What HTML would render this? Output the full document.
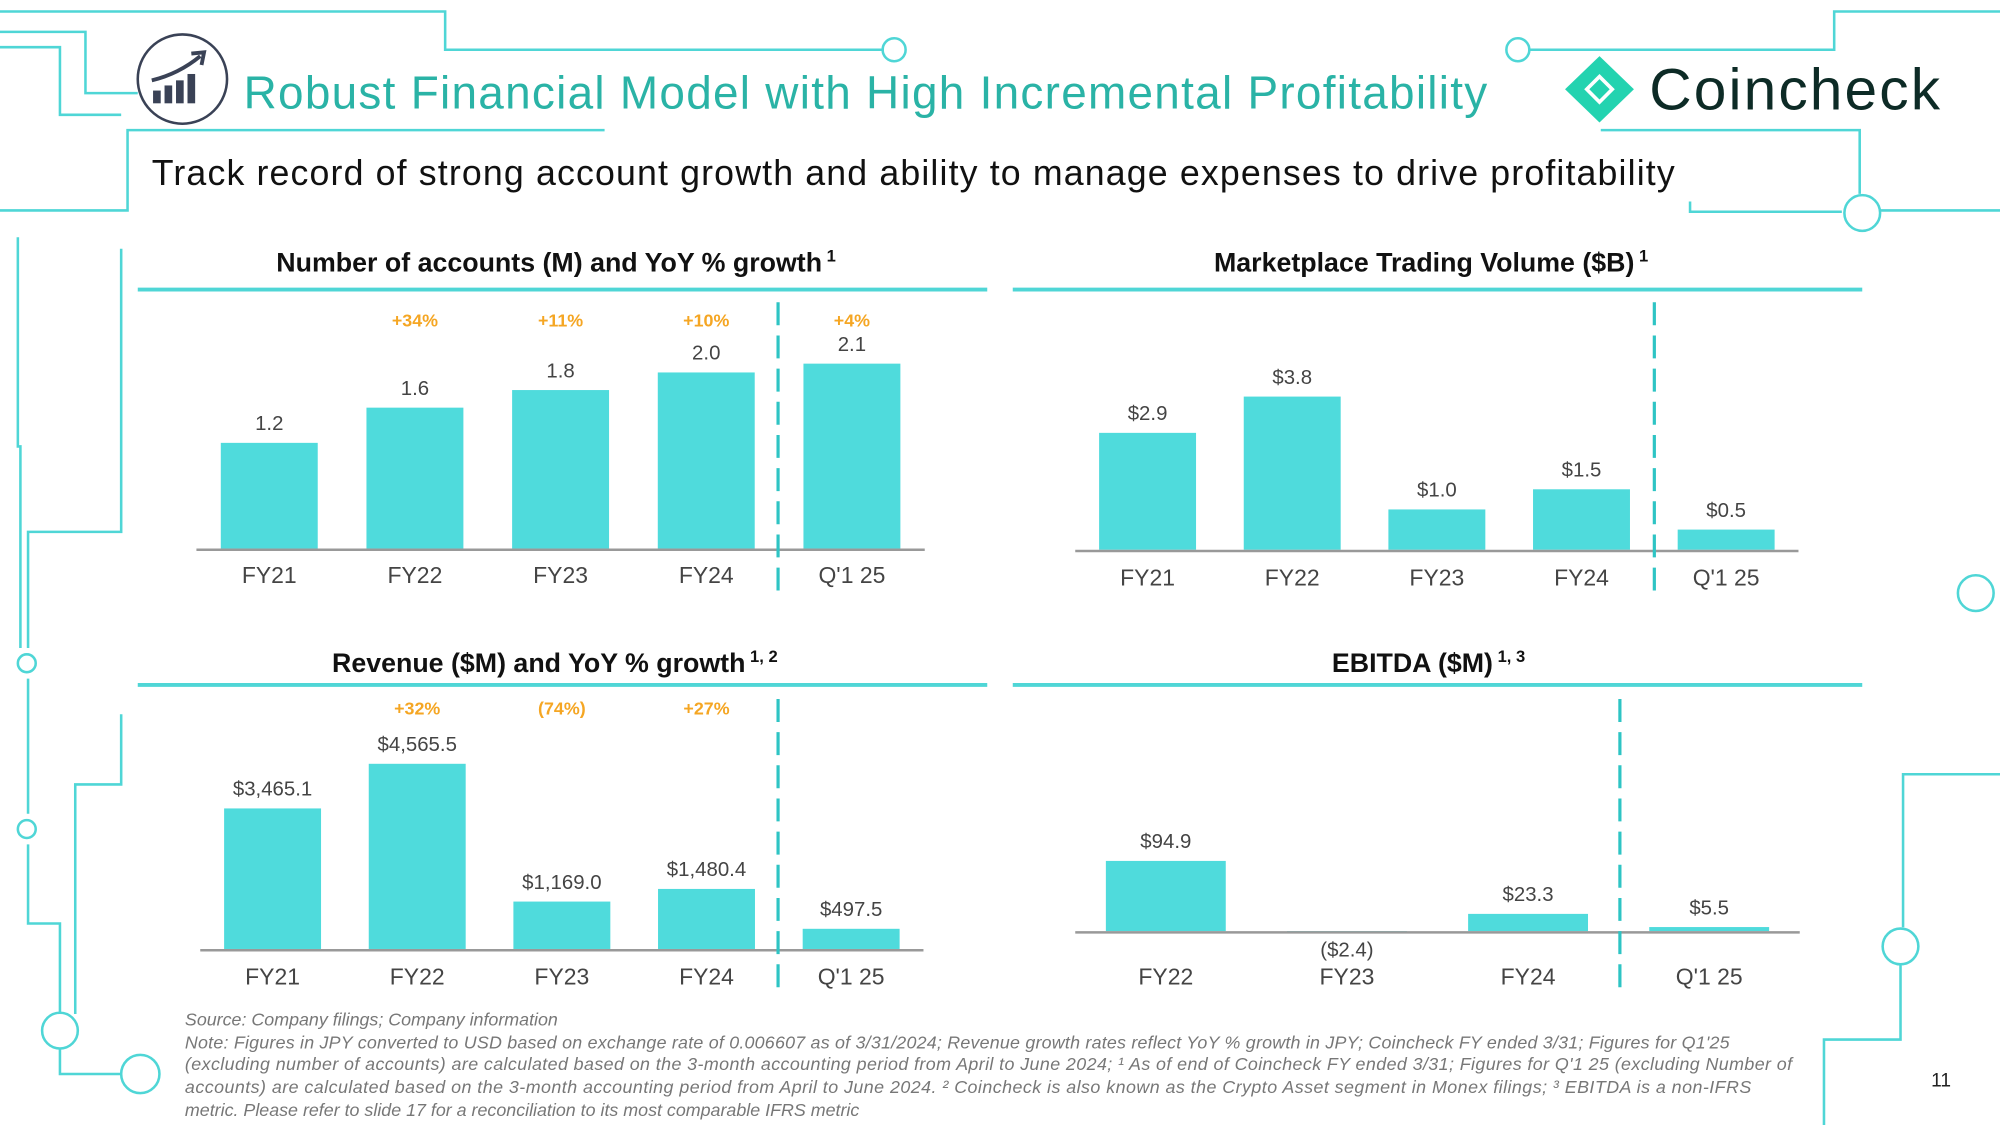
<!DOCTYPE html>
<html><head><meta charset="utf-8"><style>
html,body{margin:0;padding:0;background:#fff;}
svg{display:block;font-family:"Liberation Sans",sans-serif;}
</style></head><body>
<svg id="s" width="2000" height="1125" viewBox="0 0 1568 882" xmlns="http://www.w3.org/2000/svg">
<g stroke="#4fd6d6" stroke-width="2" fill="none">
<polyline points="0,9 349,9 349,39 693,39"/>
<circle cx="701" cy="39" r="9"/>
<polyline points="0,37 47,37 47,90 95,90"/>
<polyline points="0,25 67,25 67,73 108,73"/>
<polyline points="0,165 100,165 100,102 474,102"/>
<polyline points="1199,39 1438,39 1438,9 1568,9"/>
<circle cx="1190" cy="39" r="9"/>
<polyline points="1255,102 1458,102 1458,152"/>
<polyline points="1325,158 1325,166 1444,166"/>
<circle cx="1460" cy="167" r="14"/>
<line x1="1474" y1="165" x2="1568" y2="165"/>
<polyline points="14,186 14,350 16,350 16,508"/>
<circle cx="21" cy="520" r="7"/>
<polyline points="95,195 95,417 22,417 22,508"/>
<polyline points="22,532 22,638"/>
<circle cx="21" cy="650" r="7"/>
<polyline points="95,560 95,615 59,615 59,795"/>
<polyline points="22,662 22,724 47,724 47,795"/>
<circle cx="47" cy="808" r="14"/>
<polyline points="47,822 47,842 95,842"/>
<circle cx="110" cy="842" r="15"/>
<circle cx="1549" cy="465" r="14"/>
<polyline points="1568,607 1492,607 1492,727"/>
<polyline points="1490,757 1490,815 1430,815 1430,882"/>
</g>
<circle cx="1490" cy="742" r="14" stroke="#4fd6d6" stroke-width="2" fill="none"/>
<g>
<circle cx="143" cy="62" r="35" fill="#fff" stroke="#3a4256" stroke-width="2"/>
<rect x="120" y="71" width="6" height="10" fill="#3a4256"/><rect x="129" y="67" width="6" height="14" fill="#3a4256"/>
<rect x="138" y="63" width="6" height="18" fill="#3a4256"/><rect x="147" y="58" width="6" height="23" fill="#3a4256"/>
<path d="M119,63 Q140,58 157,44" stroke="#3a4256" stroke-width="3" fill="none"/>
<path d="M150,42 L160,41 L158,51" stroke="#3a4256" stroke-width="3" fill="none"/>
</g>
<text x="191" y="85" font-size="36" fill="#2ab3a6" textLength="975">Robust Financial Model with High Incremental Profitability</text>
<g>
<polygon points="1254,44 1281,70 1254,96 1227,70" fill="#23d3b0"/>
<polygon points="1254,58 1266,70 1254,82 1242,70" fill="#fff"/>
<polygon points="1254,62 1262,70 1254,78 1246,70" fill="#23d3b0"/>
<text x="1293" y="86" font-size="46" fill="#0d2b26" textLength="228">Coincheck</text>
</g>
<text x="119" y="145" font-size="28" fill="#111" textLength="1194">Track record of strong account growth and ability to manage expenses to drive profitability</text>

<g id="charts"></g>

<g font-size="14" fill="#777" font-style="italic">
<text x="145" y="804">Source: Company filings; Company information</text>
<text x="145" y="822" textLength="1211">Note: Figures in JPY converted to USD based on exchange rate of 0.006607 as of 3/31/2024; Revenue growth rates reflect YoY % growth in JPY; Coincheck FY ended 3/31; Figures for Q1'25</text>
<text x="145" y="839" textLength="1260">(excluding number of accounts) are calculated based on the 3-month accounting period from April to June 2024; ¹ As of end of Coincheck FY ended 3/31; Figures for Q'1 25  (excluding Number of</text>
<text x="145" y="857" textLength="1228">accounts) are calculated based on the 3-month accounting period from April to June 2024. ² Coincheck is also known as the Crypto Asset segment in Monex filings; ³ EBITDA is a non-IFRS</text>
<text x="145" y="875">metric. Please refer to slide 17 for a reconciliation to its most comparable IFRS metric</text>
</g>
<text x="1514" y="852" font-size="15" fill="#222">11</text>
</svg>
<script>
const accCats=["FY21","FY22","FY23","FY24","Q'1 25"];
const accVals=[1.2,1.6,1.8,2.0,2.1];
const accLabels=["1.2","1.6","1.8","2.0","2.1"];
const accGrowth=["","+34%","+11%","+10%","+4%"];
const volCats=["FY21","FY22","FY23","FY24","Q'1 25"];
const volVals=[2.9,3.8,1.0,1.5,0.5];
const volLabels=["$2.9","$3.8","$1.0","$1.5","$0.5"];
const revCats=["FY21","FY22","FY23","FY24","Q'1 25"];
const revVals=[3465.1,4565.5,1169.0,1480.4,497.5];
const revLabels=["$3,465.1","$4,565.5","$1,169.0","$1,480.4","$497.5"];
const revGrowth=["","+32%","(74%)","+27%",""];
const ebCats=["FY22","FY23","FY24","Q'1 25"];
const ebVals=[94.9,-2.4,23.3,5.5];
const ebLabels=["$94.9","($2.4)","$23.3","$5.5"];

const NS="http://www.w3.org/2000/svg";
const root=document.getElementById('charts');
function mk(tag,attrs,parent,txt){const e=document.createElementNS(NS,tag);for(const k in attrs)e.setAttribute(k,attrs[k]);if(txt!==undefined)e.textContent=txt;parent.appendChild(e);return e;}

function chart(o){
  const g=mk('g',{},root);
  
  
  const t=mk('text',{x:o.tx,y:o.ty,'font-size':21,'font-weight':'bold','text-anchor':'middle',fill:'#111'},g,o.title);
  
  
  mk('tspan',{'font-size':13,dy:-8},t,' '+o.sup);
  const ul=mk('line',{x1:o.ulx1,x2:o.ulx1+666,y1:o.uly,y2:o.uly,stroke:'#4fd6d6','stroke-width':3},g);
  
  
  const n=o.vals.length, step=(o.ax2-o.ax1)/n;
  const xc=i=>o.ax1+step*(i+0.5);
  const yv=v=>o.base-v*o.scale;
  o.vals.forEach((v,i)=>{
    const y0=Math.min(yv(v),o.base), h=Math.max(Math.abs(yv(v)-o.base),1.5);
    const b=mk('rect',{x:xc(i)-o.bw/2,y:y0,width:o.bw,height:h,fill:'#4fdbdc'},g);
    
    
    const ly=v>=0?yv(v)-10:o.base+20;
    const l=mk('text',{x:xc(i),y:ly,'font-size':16,'text-anchor':'middle',fill:'#444'},g,o.labels[i]);
    
    
    const c=mk('text',{x:xc(i),y:o.cy,'font-size':18,'text-anchor':'middle',fill:'#444'},g,o.cats[i]);
    
    
    if(o.growth&&o.growth[i]){
      const gr=mk('text',{x:xc(i),y:o.gy,'font-size':14,'font-weight':'bold','text-anchor':'middle',fill:'#f5a623'},g,o.growth[i]);
      
      
    }
  });
  const ax=mk('line',{x1:o.ax1,x2:o.ax2,y1:o.base+1,y2:o.base+1,stroke:'#999','stroke-width':2},g);
  
  
  const d=mk('line',{x1:o.dx,x2:o.dx,y1:o.dy1,y2:o.dy2,stroke:'#2ec4c4','stroke-width':2.5,'stroke-dasharray':'18,8'},g);
  
  
}
chart({name:'accounts-chart',title:'Number of accounts (M) and YoY % growth',sup:'1',tx:436,ty:213,ulx1:108,uly:227,
 cats:accCats,vals:accVals,labels:accLabels,growth:accGrowth,ax1:154,ax2:725,base:430,scale:69,bw:76,cy:457,gy:256,dx:610,dy1:237,dy2:463});
chart({name:'trading-volume-chart',title:'Marketplace Trading Volume ($B)',sup:'1',tx:1122,ty:213,ulx1:794,uly:227,
 cats:volCats,vals:volVals,labels:volLabels,ax1:843,ax2:1410,base:431,scale:31.6,bw:76,cy:459,dx:1297,dy1:237,dy2:463});
chart({name:'revenue-chart',title:'Revenue ($M) and YoY % growth',sup:'1, 2',tx:435,ty:527,ulx1:108,uly:537,
 cats:revCats,vals:revVals,labels:revLabels,growth:revGrowth,ax1:157,ax2:724,base:744,scale:0.0318,bw:76,cy:772,gy:560,dx:610,dy1:548,dy2:775});
chart({name:'ebitda-chart',title:'EBITDA ($M)',sup:'1, 3',tx:1120,ty:527,ulx1:794,uly:537,
 cats:ebCats,vals:ebVals,labels:ebLabels,ax1:843,ax2:1411,base:730,scale:0.58,bw:94,cy:772,dx:1270,dy1:548,dy2:775});
</script>
</body></html>
